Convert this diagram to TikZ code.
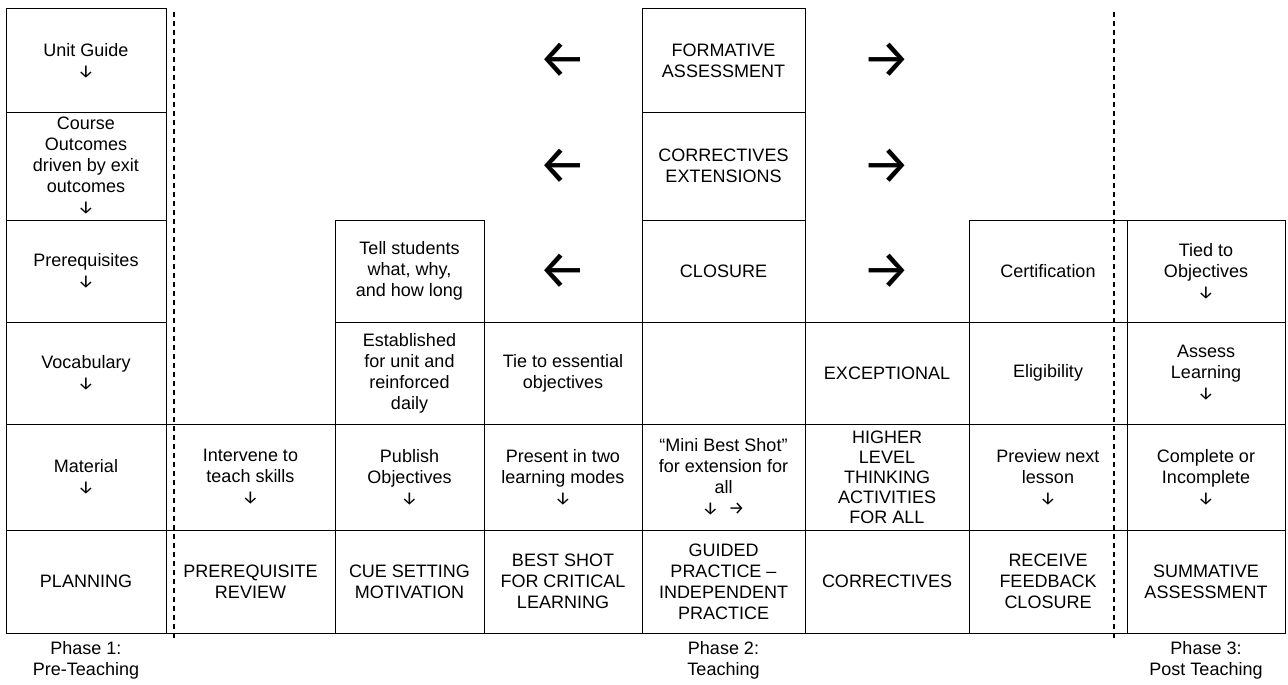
\documentclass[tikz,border=0pt]{standalone}
\usepackage{fontspec}
\setmainfont{Liberation Sans}
\newfontfamily\arrowfont{Fira Sans}
\newcommand\myDown{{\arrowfont ↓}}
\newcommand\myRight{{\arrowfont →}}
\begin{document}
\begin{tikzpicture}[x=1pt,y=-1pt,
  box/.style={draw, line width=1pt, inner sep=0pt, align=center, font=\fontsize{18}{21}\selectfont},
  free/.style={inner sep=0pt, align=center, font=\fontsize{18}{21}\selectfont},
  bigarrow/.style={inner sep=0pt, font=\arrowfont\fontsize{54}{54}\selectfont},
  phaseline/.style={dashed, line width=1.6pt, dash pattern=on 5pt off 4pt}]
\useasboundingbox (0,0) rectangle (1288,685);
% column 0
\node[box, minimum width=160pt, minimum height=103pt] (r1c0) at (86,60.5) {Unit Guide\\\myDown};
\node[box, minimum width=160pt, minimum height=108pt] (r2c0) at (86,166) {Course\\Outcomes\\driven by exit\\outcomes\\\myDown};
\node[box, minimum width=160pt, minimum height=102pt] (r3c0) at (86,271) {Prerequisites\\\myDown};
\node[box, minimum width=160pt, minimum height=102pt] (r4c0) at (86,373) {Vocabulary\\\myDown};
\node[box, minimum width=160pt, minimum height=106pt] (r5c0) at (86,477) {Material\\\myDown};
\node[box, minimum width=160pt, minimum height=103pt] (r6c0) at (86,581.5) {PLANNING};
% column 1
\node[box, minimum width=169pt, minimum height=106pt] (r5c1) at (250.5,477) {Intervene to\\teach skills\\\myDown};
\node[box, minimum width=169pt, minimum height=103pt] (r6c1) at (250.5,581.5) {PREREQUISITE\\REVIEW};
% column 2
\node[box, minimum width=149pt, minimum height=102pt] (r3c2) at (409.5,271) {Tell students\\what, why,\\and how long};
\node[box, minimum width=149pt, minimum height=102pt] (r4c2) at (409.5,373) {Established\\for unit and\\reinforced\\daily};
\node[box, minimum width=149pt, minimum height=106pt] (r5c2) at (409.5,477) {Publish\\Objectives\\\myDown};
\node[box, minimum width=149pt, minimum height=103pt] (r6c2) at (409.5,581.5) {CUE SETTING\\MOTIVATION};
% column 3
\node[bigarrow] (r1c3) at (563,60.5) {←};
\node[bigarrow] (r2c3) at (563,166) {←};
\node[bigarrow] (r3c3) at (563,271) {←};
\node[box, minimum width=158pt, minimum height=102pt] (r4c3) at (563,373) {Tie to essential\\objectives};
\node[box, minimum width=158pt, minimum height=106pt] (r5c3) at (563,477) {Present in two\\learning modes\\\myDown};
\node[box, minimum width=158pt, minimum height=103pt] (r6c3) at (563,581.5) {BEST SHOT\\FOR CRITICAL\\LEARNING};
% column 4
\node[box, minimum width=163pt, minimum height=103pt] (r1c4) at (723.5,60.5) {FORMATIVE\\ASSESSMENT};
\node[box, minimum width=163pt, minimum height=108pt] (r2c4) at (723.5,166) {CORRECTIVES\\EXTENSIONS};
\node[box, minimum width=163pt, minimum height=102pt] (r3c4) at (723.5,271) {CLOSURE};
\node[box, minimum width=163pt, minimum height=102pt] (r4c4) at (723.5,373) {};
\node[box, minimum width=163pt, minimum height=106pt] (r5c4) at (723.5,477) {“Mini Best Shot”\\for extension for\\all\\\myDown\ \ \myRight};
\node[box, minimum width=163pt, minimum height=103pt] (r6c4) at (723.5,581.5) {GUIDED\\PRACTICE –\\INDEPENDENT\\PRACTICE};
% column 5
\node[bigarrow] (r1c5) at (887,60.5) {→};
\node[bigarrow] (r2c5) at (887,166) {→};
\node[bigarrow] (r3c5) at (887,271) {→};
\node[box, minimum width=164pt, minimum height=102pt] (r4c5) at (887,373) {EXCEPTIONAL};
\node[box, minimum width=164pt, minimum height=106pt, font=\fontsize{18}{20}\selectfont] (r5c5) at (887,477) {HIGHER\\LEVEL\\THINKING\\ACTIVITIES\\FOR ALL};
\node[box, minimum width=164pt, minimum height=103pt] (r6c5) at (887,581.5) {CORRECTIVES};
% column 6
\node[box, minimum width=158pt, minimum height=102pt] (r3c6) at (1048,271) {Certification};
\node[box, minimum width=158pt, minimum height=102pt] (r4c6) at (1048,373) {Eligibility};
\node[box, minimum width=158pt, minimum height=106pt] (r5c6) at (1048,477) {Preview next\\lesson\\\myDown};
\node[box, minimum width=158pt, minimum height=103pt] (r6c6) at (1048,581.5) {RECEIVE\\FEEDBACK\\CLOSURE};
% column 7
\node[box, minimum width=158pt, minimum height=102pt] (r3c7) at (1206,271) {Tied to\\Objectives\\\myDown};
\node[box, minimum width=158pt, minimum height=102pt] (r4c7) at (1206,373) {Assess\\Learning\\\myDown};
\node[box, minimum width=158pt, minimum height=106pt] (r5c7) at (1206,477) {Complete or\\Incomplete\\\myDown};
\node[box, minimum width=158pt, minimum height=103pt] (r6c7) at (1206,581.5) {SUMMATIVE\\ASSESSMENT};
% phase dividers
\coordinate (d1top) at (174,12);
\coordinate (d1bot) at (174,640);
\coordinate (d2top) at (1114,12);
\coordinate (d2bot) at (1114,640);
\draw[phaseline] (d1top) -- (d1bot);
\draw[phaseline] (d2top) -- (d2bot);
% phase labels
\node[free] (p1) at (86,660) {Phase 1:\\Pre-Teaching};
\node[free] (p2) at (723.5,660) {Phase 2:\\Teaching};
\node[free] (p3) at (1206,660) {Phase 3:\\Post Teaching};
\end{tikzpicture}
\end{document}
